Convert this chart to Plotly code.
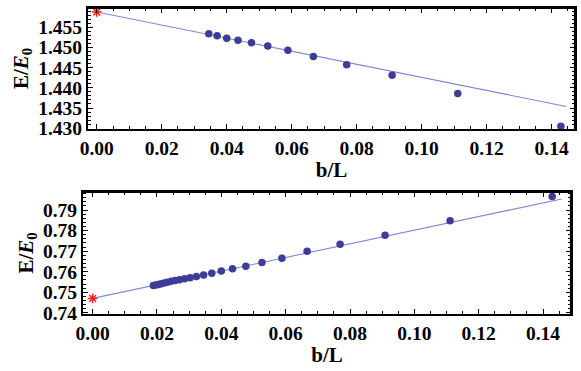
import plotly.graph_objects as go

# ---- data ----
N_top = [7, 9, 11, 13, 15, 17, 19, 21, 23, 25, 27, 29]
x_top = [1.0 / n for n in N_top]
y_top = [1.4305, 1.4386, 1.4431, 1.4457, 1.4478, 1.4493, 1.4504, 1.4512,
         1.4518, 1.4523, 1.4529, 1.4534]
top_intercept = 1.4588
top_slope = -0.162
top_fit_x = [0.0, 0.1445]

N_bot = [7, 9, 11, 13, 15, 17, 19, 21, 23, 25, 27, 29, 31, 33, 35, 37, 39,
         41, 43, 45, 47, 49, 51, 53]
x_bot = [1.0 / n for n in N_bot]
y_bot = [0.7966, 0.7848, 0.7778, 0.7733, 0.7699, 0.7665, 0.7645, 0.7627,
         0.7614, 0.7603, 0.7592, 0.7584, 0.7577, 0.7571, 0.7566, 0.7561,
         0.7557, 0.7553, 0.7549, 0.7545, 0.7541, 0.7538, 0.7535, 0.7533]
bot_intercept = 0.7470
bot_slope = 0.332
bot_fit_x = [0.0, 0.1458]

x_tickvals = [0.0, 0.02, 0.04, 0.06, 0.08, 0.10, 0.12, 0.14]
top_yticks = [1.430, 1.435, 1.440, 1.445, 1.450, 1.455]
bot_yticks = [0.74, 0.75, 0.76, 0.77, 0.78, 0.79]

top_xrange = [-0.0027, 0.1472]
top_yrange = [1.4298, 1.4598]
bot_xrange = [-0.0030, 0.1487]
bot_yrange = [0.7394, 0.7988]

# ---- styles ----
PT = "#3d3d99"
LN = "#8585d6"
FONT = "Liberation Serif"
W, H = 581, 371

top_xdom = [88 / W, 575 / W]
top_ydom = [1 - 129 / H, 1 - 8 / H]
bot_xdom = [83 / W, 571 / W]
bot_ydom = [1 - 314 / H, 1 - 192 / H]

fig = go.Figure()

def add_panel(xs, ys, icpt, slope, fitx, xa, ya):
    fity = [icpt + slope * v for v in fitx]
    fig.add_trace(go.Scatter(x=fitx, y=fity, mode="lines",
                             line=dict(color=LN, width=1.1),
                             xaxis=xa, yaxis=ya, showlegend=False,
                             hoverinfo="skip"))
    fig.add_trace(go.Scatter(x=xs, y=ys, mode="markers",
                             marker=dict(color=PT, size=7.5),
                             xaxis=xa, yaxis=ya, showlegend=False))
    fig.add_trace(go.Scatter(x=[0.0], y=[icpt], mode="markers",
                             marker=dict(symbol="asterisk", size=8,
                                         line=dict(color="#ff2020", width=1.5)),
                             xaxis=xa, yaxis=ya, showlegend=False))

add_panel(x_top, y_top, top_intercept, top_slope, top_fit_x, "x", "y")
add_panel(x_bot, y_bot, bot_intercept, bot_slope, bot_fit_x, "x2", "y2")

tickfont = dict(family=FONT, size=19.5, color="black")
titlefont = dict(family=FONT, size=21, color="black")

def xaxis(domain, anchor, rng):
    return dict(domain=domain, anchor=anchor, range=rng, automargin=False,
                tickvals=x_tickvals, ticktext=["<b>%.2f</b>" % v for v in x_tickvals],
                tickfont=tickfont, ticks="inside", ticklen=5, tickwidth=1.3,
                tickcolor="black", showline=True, linewidth=2.2, linecolor="black",
                mirror="allticks", showgrid=False, zeroline=False,
                minor=dict(dtick=0.005, tick0=0, ticks="inside", ticklen=3,
                           tickwidth=1, tickcolor="black", showgrid=False),
                title=dict(text="<b>b/L</b>", font=titlefont, standoff=2))

def yaxis(domain, anchor, rng, ticks, fmt, minor):
    return dict(domain=domain, anchor=anchor, range=rng, automargin=False,
                tickvals=ticks, ticktext=["<b>" + (fmt % v) + "</b>" for v in ticks],
                tickfont=tickfont, ticks="inside", ticklen=5, tickwidth=1.3,
                tickcolor="black", showline=True, linewidth=2.2, linecolor="black",
                mirror="allticks", showgrid=False, zeroline=False,
                minor=dict(dtick=minor, ticks="inside", ticklen=2.5, tickwidth=1,
                           tickcolor="black", showgrid=False),
                ticklabelstandoff=0,
                title=dict(text="<b>E/<i>E</i><sub>0</sub></b>", font=titlefont,
                           standoff=4))

fig.update_layout(
    width=W, height=H,
    margin=dict(l=0, r=0, t=0, b=0, autoexpand=False),
    paper_bgcolor="white", plot_bgcolor="white",
    xaxis=xaxis(top_xdom, "y", top_xrange),
    yaxis=yaxis(top_ydom, "x", top_yrange, top_yticks, "%.3f", 0.001),
    xaxis2=xaxis(bot_xdom, "y2", bot_xrange),
    yaxis2=yaxis(bot_ydom, "x2", bot_yrange, bot_yticks, "%.2f", 0.002),
)

# frame edges (top and right) in paper coordinates
for xd, yd in ((top_xdom, top_ydom), (bot_xdom, bot_ydom)):
    fig.add_shape(type="line", xref="paper", yref="paper",
                  x0=xd[0], x1=xd[1], y0=yd[1], y1=yd[1],
                  line=dict(color="black", width=2.2))
    fig.add_shape(type="line", xref="paper", yref="paper",
                  x0=xd[1], x1=xd[1], y0=yd[0], y1=yd[1],
                  line=dict(color="black", width=2.2))

fig.write_html("out.html",
               config={"displayModeBar": False},
               post_script="document.body.style.margin='0';"
                           "document.body.style.overflow='hidden';")
